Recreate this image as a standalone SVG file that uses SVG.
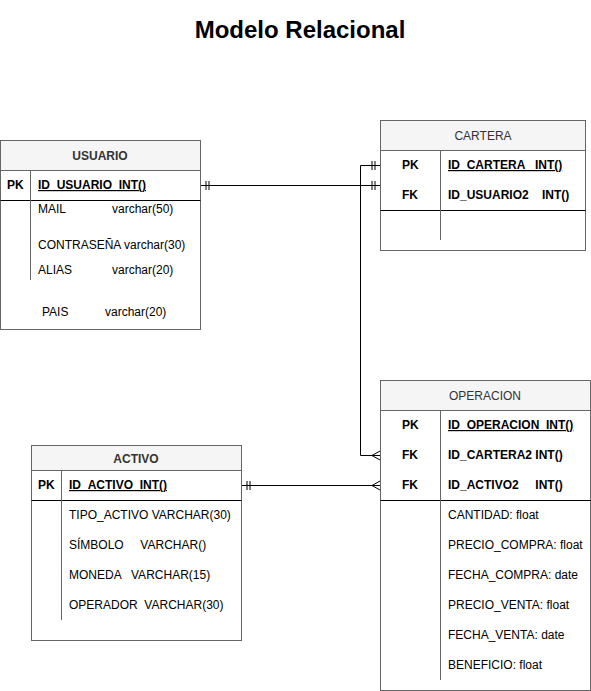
<svg xmlns="http://www.w3.org/2000/svg" width="591" height="691" viewBox="0 0 591 691">
  <style>
    text { font-family: "Liberation Sans", Arial, sans-serif; font-size: 12px; fill: #000; }
    .title { font-size: 24px; font-weight: bold; text-anchor: middle; }
    .hdr { fill: #333; text-anchor: middle; }
    .hb { font-weight: bold; }
    .key { font-weight: bold; }
    .pk { font-weight: bold; text-decoration: underline; }
    .box { fill: #fff; stroke: #666; stroke-width: 1; }
    .head { fill: #f5f5f5; stroke: #666; stroke-width: 1; }
    .sep { stroke: #000; stroke-width: 1; }
    .div { stroke: #666; stroke-width: 1; }
    .conn { fill: none; stroke: #000; stroke-width: 1; }
  </style>
  <defs>
    <!-- mandatory-one: two short bars -->
    <marker id="one" markerWidth="12" markerHeight="12" refX="0" refY="6" orient="auto" markerUnits="userSpaceOnUse">
      <path d="M6 1.5V10.5M9 1.5V10.5" stroke="#000" stroke-width="1" fill="none"/>
    </marker>
    <!-- many: crow's foot opening toward the entity -->
    <marker id="many" markerWidth="12" markerHeight="12" refX="10" refY="6" orient="auto" markerUnits="userSpaceOnUse">
      <path d="M2 6L10 1.5M2 6L10 10.5M0 6H10" stroke="#000" stroke-width="1" fill="none"/>
    </marker>
    <marker id="oneStart" markerWidth="12" markerHeight="12" refX="12" refY="6" orient="auto" markerUnits="userSpaceOnUse">
      <path d="M3 1.5V10.5M6 1.5V10.5" stroke="#000" stroke-width="1" fill="none"/>
    </marker>
  </defs>

  <rect width="591" height="691" fill="#fff"/>
  <text class="title" x="300" y="38">Modelo Relacional</text>

  <g id="connectors">
    <!-- USUARIO.ID_USUARIO to CARTERA.ID_USUARIO2 -->
    <path class="conn" d="M200.5 185.5H380.5"/>
    <path d="M206 181v9M209 181v9M372 181v9M375 181v9" stroke="#000" fill="none"/>
    <!-- CARTERA.ID_CARTERA to OPERACION.ID_CARTERA2 -->
    <path class="conn" d="M380.5 165.5H360.5V455.5H380.5"/>
    <path d="M372 161v9M375 161v9" stroke="#000" fill="none"/>
    <path d="M372 455.5L380 451M372 455.5L380 460" stroke="#000" fill="none"/>
    <!-- ACTIVO.ID_ACTIVO to OPERACION.ID_ACTIVO2 -->
    <path class="conn" d="M241.5 485.5H380.5"/>
    <path d="M247 481v9M250 481v9" stroke="#000" fill="none"/>
    <path d="M372 485.5L380 481M372 485.5L380 490" stroke="#000" fill="none"/>
  </g>

  <g id="usuario">
    <rect class="box" x="0.5" y="140.5" width="200" height="189"/>
    <rect class="head" x="0.5" y="140.5" width="200" height="30"/>
    <text class="hdr hb" x="100" y="160">USUARIO</text>
    <line class="sep" x1="0.5" y1="200.5" x2="200.5" y2="200.5"/>
    <line class="div" x1="30.5" y1="170.5" x2="30.5" y2="280"/>
    <text class="key" x="7" y="189">PK</text>
    <text class="pk" x="38" y="189">ID_USUARIO_INT()</text>
    <text x="38" y="213">MAIL</text><text x="112" y="213">varchar(50)</text>
    <text x="38" y="249">CONTRASEÑA varchar(30)</text>
    <text x="38" y="274">ALIAS</text><text x="112" y="274">varchar(20)</text>
    <text x="42" y="316">PAIS</text><text x="105" y="316">varchar(20)</text>
  </g>

  <g id="cartera">
    <rect class="box" x="380.5" y="120.5" width="205" height="130"/>
    <rect class="head" x="380.5" y="120.5" width="205" height="30"/>
    <text class="hdr" x="483" y="140">CARTERA</text>
    <line class="sep" x1="380.5" y1="210.5" x2="585.5" y2="210.5"/>
    <line class="div" x1="440.5" y1="150.5" x2="440.5" y2="240"/>
    <text class="key" x="402" y="169">PK</text>
    <text class="pk" x="448" y="169" xml:space="preserve">ID_CARTERA   INT()</text>
    <text class="key" x="402" y="199">FK</text>
    <text class="key" x="448" y="199" xml:space="preserve">ID_USUARIO2    INT()</text>
  </g>

  <g id="operacion">
    <rect class="box" x="380.5" y="380.5" width="210" height="310"/>
    <rect class="head" x="380.5" y="380.5" width="210" height="30"/>
    <text class="hdr" x="485" y="400">OPERACION</text>
    <line class="sep" x1="380.5" y1="500.5" x2="590.5" y2="500.5"/>
    <line class="div" x1="440.5" y1="410.5" x2="440.5" y2="680"/>
    <text class="key" x="402" y="429">PK</text>
    <text class="pk" x="448" y="429">ID_OPERACION_INT()</text>
    <text class="key" x="402" y="459">FK</text>
    <text class="key" x="448" y="459">ID_CARTERA2 INT()</text>
    <text class="key" x="402" y="489">FK</text>
    <text class="key" x="448" y="489" xml:space="preserve">ID_ACTIVO2     INT()</text>
    <text x="448" y="519">CANTIDAD: float</text>
    <text x="448" y="549">PRECIO_COMPRA: float</text>
    <text x="448" y="579">FECHA_COMPRA: date</text>
    <text x="448" y="609">PRECIO_VENTA: float</text>
    <text x="448" y="639">FECHA_VENTA: date</text>
    <text x="448" y="669">BENEFICIO: float</text>
  </g>

  <g id="activo">
    <rect class="box" x="31.5" y="445.5" width="210" height="195"/>
    <rect class="head" x="31.5" y="445.5" width="210" height="25"/>
    <text class="hdr hb" x="136" y="463">ACTIVO</text>
    <line class="sep" x1="31.5" y1="500.5" x2="241.5" y2="500.5"/>
    <line class="div" x1="61.5" y1="470.5" x2="61.5" y2="620"/>
    <text class="key" x="38" y="489">PK</text>
    <text class="pk" x="69" y="489">ID_ACTIVO_INT()</text>
    <text x="69" y="519">TIPO_ACTIVO VARCHAR(30)</text>
    <text x="69" y="549" xml:space="preserve">SÍMBOLO     VARCHAR()</text>
    <text x="69" y="579" xml:space="preserve">MONEDA   VARCHAR(15)</text>
    <text x="69" y="609" xml:space="preserve">OPERADOR  VARCHAR(30)</text>
  </g>
</svg>
